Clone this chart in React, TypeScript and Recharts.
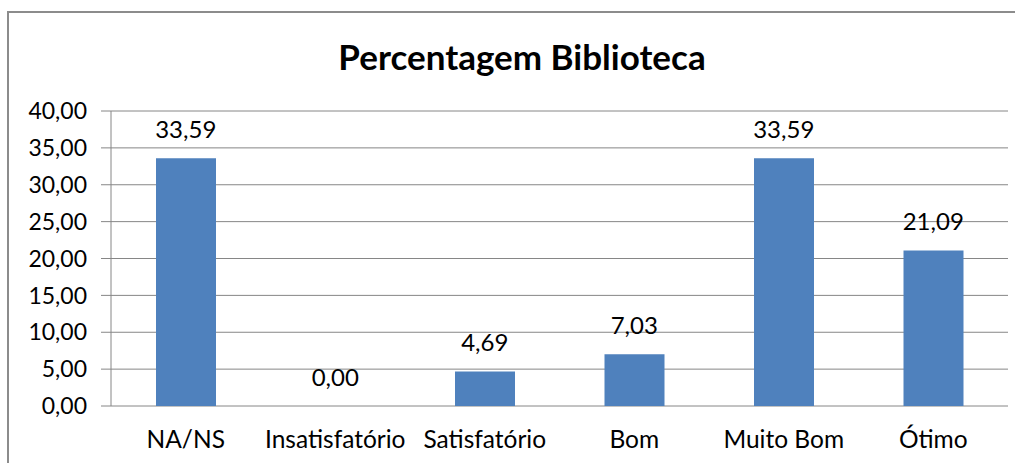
import React from "react";
import { ComposedChart, Bar, Line, XAxis, YAxis, CartesianGrid, LabelList } from "recharts";

const categories = ["NA/NS", "Insatisfatório", "Satisfatório", "Bom", "Muito Bom", "Ótimo"];
const percentages = [33.59, 0.0, 4.69, 7.03, 33.59, 21.09];
const yTicks = [0, 5, 10, 15, 20, 25, 30, 35, 40];
const boundaryTicks = [0, 1, 2, 3, 4, 5, 6];
const title = "Percentagem Biblioteca";

const data = categories.map((c, i) => ({ name: c, value: percentages[i] }));

const fmt = (v: number) => Number(v).toFixed(2).replace(".", ",");
const FONT = "Lato, 'Liberation Sans', sans-serif";
const GRAY = "#868686";

export default function App() {
  return (
    <div style={{ position: "absolute", left: 0, top: 0, width: 1015, height: 463, overflow: "hidden", background: "#fff" }}>
      <div
        style={{
          position: "absolute",
          left: 7,
          top: 11,
          width: 1100,
          height: 600,
          border: "2px solid #8c8c8c",
          boxSizing: "border-box",
        }}
      />
      <div
        style={{
          position: "absolute",
          left: 272,
          width: 500,
          top: 36,
          textAlign: "center",
          fontFamily: FONT,
          fontWeight: 700,
          fontSize: 35,
          color: "#000",
          lineHeight: "40px",
        }}
      >
        {title}
      </div>
      <div style={{ position: "absolute", left: 0, top: 0 }}>
        <ComposedChart
          width={1015}
          height={463}
          data={data}
          margin={{ top: 111, right: 7, bottom: 0, left: 0 }}
          barCategoryGap={45}
        >
          <CartesianGrid vertical={false} stroke={GRAY} strokeWidth={1} />
          <XAxis
            xAxisId="b"
            type="number"
            dataKey="idx"
            domain={[0, 6]}
            ticks={boundaryTicks}
            allowDataOverflow
            height={0}
            tickSize={7}
            stroke={GRAY}
            axisLine={{ stroke: GRAY }}
            tickLine={{ stroke: GRAY }}
            tick={() => <g />}
          />
          <XAxis
            dataKey="name"
            height={57}
            tickLine={false}
            axisLine={false}
            tickMargin={19}
            interval={0}
            tick={{ fill: "#000", fontSize: 24.5, fontFamily: FONT }}
          />
          <YAxis
            domain={[0, 40]}
            ticks={yTicks}
            width={111}
            tickSize={10}
            tickMargin={14}
            interval={0}
            stroke={GRAY}
            tickFormatter={fmt}
            tick={{ fill: "#000", fontSize: 23, fontFamily: FONT }}
          />
          <Bar dataKey="value" fill="#4F81BD" isAnimationActive={false} />
          <Line
            dataKey="value"
            stroke="none"
            dot={false}
            activeDot={false}
            isAnimationActive={false}
          >
            <LabelList
              dataKey="value"
              position="top"
              offset={20}
              formatter={(v: number) => fmt(v)}
              style={{ fill: "#000", fontSize: 24, fontFamily: FONT }}
            />
          </Line>
        </ComposedChart>
      </div>
    </div>
  );
}
